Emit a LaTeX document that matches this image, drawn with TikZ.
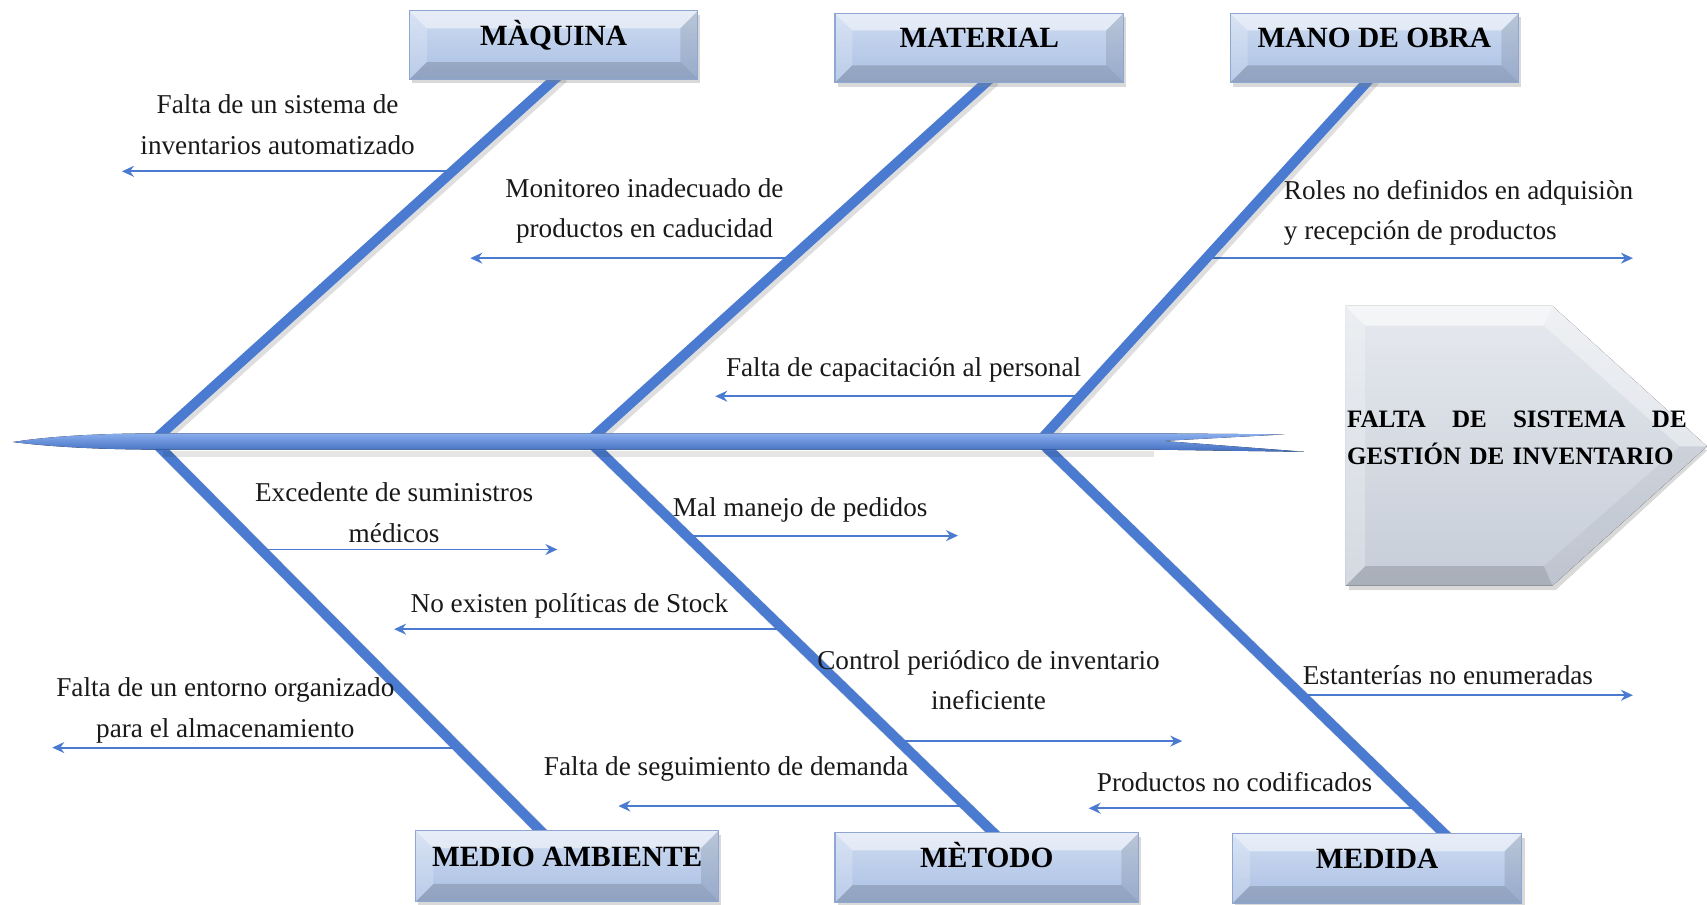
\documentclass[tikz,border=0pt]{standalone}
\usepackage{fontspec}
\setmainfont{Liberation Serif}
\usepackage{tikz}
\usetikzlibrary{calc,arrows.meta,shadows,backgrounds}
\definecolor{bonecol}{HTML}{4A7BD0}
\definecolor{spinetop}{HTML}{8AAEEE}
\definecolor{spinebot}{HTML}{3F6DC0}
\definecolor{boxtop}{HTML}{CFDCF1}
\definecolor{boxbot}{HTML}{A9BFE3}
\definecolor{boxedge}{HTML}{8FA7D0}
\definecolor{headtop}{HTML}{E6E9EE}
\definecolor{headbot}{HTML}{C6CDD8}
\tikzset{bonebox/.style={draw=boxedge, line width=0.5pt, top color=boxtop, bottom color=boxbot,
        inner sep=0pt, text height=10pt, text depth=10pt,
        font=\fontsize{13.5}{16}\selectfont\bfseries,
        drop shadow={opacity=0.3, shadow xshift=1.2pt, shadow yshift=-1.8pt},
        path picture={
            \coordinate (nw) at (path picture bounding box.north west);
            \coordinate (ne) at (path picture bounding box.north east);
            \coordinate (sw) at (path picture bounding box.south west);
            \coordinate (se) at (path picture bounding box.south east);
            \fill[white, opacity=.5] (nw) -- (ne) -- ([shift={(-8pt,-8pt)}]ne) -- ([shift={(8pt,-8pt)}]nw) -- cycle;
            \fill[white, opacity=.2] (nw) -- ([shift={(8pt,-8pt)}]nw) -- ([shift={(8pt,8pt)}]sw) -- (sw) -- cycle;
            \fill[black, opacity=.1] (ne) -- (se) -- ([shift={(-8pt,8pt)}]se) -- ([shift={(-8pt,-8pt)}]ne) -- cycle;
            \fill[black, opacity=.15] (sw) -- (se) -- ([shift={(-8pt,8pt)}]se) -- ([shift={(8pt,8pt)}]sw) -- cycle;
        }},
    bone/.style={draw=bonecol, line width=4.6pt, shorten >=-4pt},
    boneshadow/.style={draw=black, opacity=.13, line width=5pt, shorten >=-4pt},
    cause/.style={draw=bonecol, line width=0.9pt, -{Stealth[length=5.5pt,width=5pt]}},
    causetext/.style={align=center, inner sep=0pt, text=black!90,
        font=\fontsize{12.5}{18.5}\selectfont}}

\begin{document}
\begin{tikzpicture}[x=0.5pt,y=-0.5pt]
    \useasboundingbox (0,0) rectangle (1568,831);

    % categorias
    \node[bonebox, minimum width=132.5pt, minimum height=31.5pt] (maq) at (508.5,41.5) {MÀQUINA};
    \node[bonebox, minimum width=132.5pt, minimum height=32pt] (mat) at (899.5,44) {MATERIAL};
    \node[bonebox, minimum width=132.5pt, minimum height=32pt] (mano) at (1262.5,44) {MANO DE OBRA};
    \node[bonebox, minimum width=139pt, minimum height=32.5pt] (amb) at (521,795.5) {MEDIO AMBIENTE};
    \node[bonebox, minimum width=139.5pt, minimum height=32pt] (met) at (906.5,797) {MÈTODO};
    \node[bonebox, minimum width=133pt, minimum height=32pt] (med) at (1265,798) {MEDIDA};

    % cabeza
    \coordinate (p1) at (1236,281);
    \coordinate (p2) at (1426,281);
    \coordinate (p3) at (1568,410);
    \coordinate (p4) at (1426,538);
    \coordinate (p5) at (1236,538);
    \coordinate (q1) at (1254,299);
    \coordinate (q2) at (1418,299);
    \coordinate (q3) at (1543,410);
    \coordinate (q4) at (1418,520);
    \coordinate (q5) at (1254,520);
    \fill[black, opacity=.15] ([shift={(1.5pt,-2pt)}]p1) -- ([shift={(1.5pt,-2pt)}]p2) -- ([shift={(0pt,-2pt)}]p3)
        -- ([shift={(1.5pt,-2pt)}]p4) -- ([shift={(1.5pt,-2pt)}]p5) -- cycle;
    \fill[top color=headtop, bottom color=headbot] (p1) -- (p2) -- (p3) -- (p4) -- (p5) -- cycle;
    \fill[white, opacity=.6] (p1) -- (p2) -- (q2) -- (q1) -- cycle;
    \fill[white, opacity=.35] (p2) -- (p3) -- (q3) -- (q2) -- cycle;
    \fill[black, opacity=.04] (p3) -- (p4) -- (q4) -- (q3) -- cycle;
    \fill[black, opacity=.14] (p4) -- (p5) -- (q5) -- (q4) -- cycle;
    \fill[white, opacity=.25] (p5) -- (p1) -- (q1) -- (q5) -- cycle;
    \node[anchor=north west, inner sep=0pt, text width=160pt, align=left,
        font=\fontsize{11.5}{17}\selectfont\bfseries] (efecto) at (1237,377)
        {\makebox[156pt][l]{FALTA\hfill DE\hfill SISTEMA\hfill DE}\\GESTIÓN DE INVENTARIO};

    % espinas
    \coordinate (s1) at (141,405);
    \coordinate (s2) at (541,405);
    \coordinate (s3) at (955,405);
    \coordinate (b1) at ($(maq.south west)!0.5!(maq.south east)$);
    \coordinate (b2) at ($(mat.south west)!0.52!(mat.south east)$);
    \coordinate (b3) at ($(mano.south west)!0.47!(mano.south east)$);
    \coordinate (b4) at ($(amb.north west)!0.41!(amb.north east)$);
    \coordinate (b5) at ($(met.north west)!0.52!(met.north east)$);
    \coordinate (b6) at ($(med.north west)!0.73!(med.north east)$);

    % causas
    \coordinate (m1) at ($(s1)!0.747!(b1)$);
    \coordinate (m2) at ($(s2)!0.511!(b2)$);
    \coordinate (m3) at ($(s3)!0.511!(b3)$);
    \coordinate (m4) at ($(s3)!0.125!(b3)$);
    \coordinate (m5) at ($(s1)!0.279!(b4)$);
    \coordinate (m6) at ($(s2)!0.242!(b5)$);
    \coordinate (m7) at ($(s2)!0.481!(b5)$);
    \coordinate (m8) at ($(s2)!0.767!(b5)$);
    \coordinate (m9) at ($(s1)!0.788!(b4)$);
    \coordinate (m10) at ($(s2)!0.933!(b5)$);
    \coordinate (m11) at ($(s3)!0.648!(b6)$);
    \coordinate (m12) at ($(s3)!0.936!(b6)$);
    \coordinate (e1) at (112,157);
    \coordinate (e2) at (432,237);
    \coordinate (e3) at (1500,237);
    \coordinate (e4) at (657,364);
    \coordinate (e5) at (512,505);
    \coordinate (e6) at (880,492);
    \coordinate (e7) at (362,578);
    \coordinate (e8) at (1086,681);
    \coordinate (e9) at (48,687);
    \coordinate (e10) at (568,741);
    \coordinate (e11) at (1500,639);
    \coordinate (e12) at (1000,743);

    \begin{scope}[on background layer]
        \foreach \m/\e in {m1/e1,m2/e2,m3/e3,m4/e4,m5/e5,m6/e6,m7/e7,m8/e8,m9/e9,m10/e10,m11/e11,m12/e12}
            \draw[cause] (\m) -- (\m -| \e);

        \begin{scope}[transform canvas={xshift=1.5pt,yshift=-1.5pt}]
            \foreach \s/\b in {s1/b1,s2/b2,s3/b3,s1/b4,s2/b5,s3/b6}
                \draw[boneshadow] (\s) -- (\b);
        \end{scope}
        \foreach \s/\b in {s1/b1,s2/b2,s3/b3,s1/b4,s2/b5,s3/b6}
            \draw[bone] (\s) -- (\b);

        % espina central
        \draw[black, opacity=.1, line width=3pt] (150,417) -- (1060,417);
        \fill[top color=spinetop, bottom color=spinebot]
            (12,406) .. controls (50,400) and (100,398) .. (150,398) -- (1058,398) -- (1180,399)
            -- (1068,405) -- (1198,415) -- (1058,413) -- (150,413)
            .. controls (100,413) and (50,411) .. (12,406) -- cycle;
    \end{scope}

    % textos
    \node[causetext] (t1) at (255,114.5) {Falta de un sistema de\\inventarios automatizado};
    \node[causetext] (t2) at (592,193.5) {Monitoreo inadecuado de\\productos en caducidad};
    \node[causetext, anchor=west, align=left] (t3) at (1179,195.5) {Roles no definidos en adquisiòn\\y recepción de productos};
    \node[causetext] (t4) at (830,340) {Falta de capacitación al personal};
    \node[causetext] (t5) at (362,471) {Excedente de suministros\\médicos};
    \node[causetext] (t6) at (735,468) {Mal manejo de pedidos};
    \node[causetext] (t7) at (523,557) {No existen políticas de Stock};
    \node[causetext] (t8) at (908,625) {Control periódico de inventario\\ineficiente};
    \node[causetext] (t9) at (207,652.5) {Falta de un entorno organizado\\para el almacenamiento};
    \node[causetext] (t10) at (667,706) {Falta de seguimiento de demanda};
    \node[causetext] (t11) at (1330,620) {Estanterías no enumeradas};
    \node[causetext] (t12) at (1134,718) {Productos no codificados};
\end{tikzpicture}
\end{document}
